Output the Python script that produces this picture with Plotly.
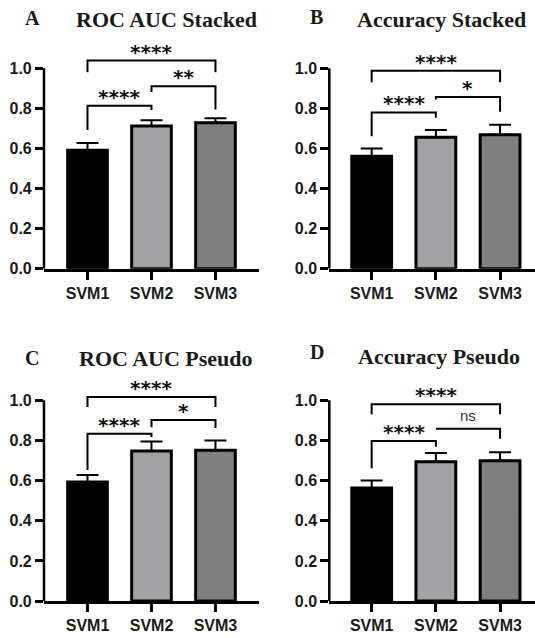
import plotly.graph_objects as go

# ---------------- data ----------------
categories = ["SVM1", "SVM2", "SVM3"]
y_ticks = [0.0, 0.2, 0.4, 0.6, 0.8, 1.0]
y_tick_labels = ["0.0", "0.2", "0.4", "0.6", "0.8", "1.0"]

panel_letters = ["A", "B", "C", "D"]
panel_titles = ["ROC AUC Stacked", "Accuracy Stacked", "ROC AUC Pseudo", "Accuracy Pseudo"]

mean_A = [0.592, 0.713, 0.728]
err_A = [0.036, 0.028, 0.023]
mean_B = [0.562, 0.656, 0.669]
err_B = [0.038, 0.036, 0.049]
mean_C = [0.593, 0.748, 0.751]
err_C = [0.035, 0.047, 0.049]
mean_D = [0.563, 0.694, 0.699]
err_D = [0.038, 0.044, 0.042]

pairs = [(0, 1), (1, 2), (0, 2)]
bracket_h_A = [0.813, 0.911, 1.039]
left_end_A = [0.693, 0.882, 0.980]
right_end_A = [0.792, 0.795, 0.980]
sig_A = ["****", "**", "****"]

bracket_h_B = [0.780, 0.857, 0.988]
left_end_B = [0.661, 0.844, 0.931]
right_end_B = [0.754, 0.784, 0.931]
sig_B = ["****", "*", "****"]

bracket_h_C = [0.833, 0.902, 1.016]
left_end_C = [0.653, 0.866, 0.967]
right_end_C = [0.817, 0.862, 0.967]
sig_C = ["****", "*", "****"]

bracket_h_D = [0.797, 0.858, 0.980]
left_end_D = [0.661, 0.858, 0.931]
right_end_D = [0.768, 0.809, 0.931]
sig_D = ["****", "ns", "****"]

means = [mean_A, mean_B, mean_C, mean_D]
errs = [err_A, err_B, err_C, err_D]
bracket_h = [bracket_h_A, bracket_h_B, bracket_h_C, bracket_h_D]
left_end = [left_end_A, left_end_B, left_end_C, left_end_D]
right_end = [right_end_A, right_end_B, right_end_C, right_end_D]
sigs = [sig_A, sig_B, sig_C, sig_D]

# ---------------- style ----------------
bar_colors = ["#000000", "#a2a1a6", "#7f7f7f"]
x_domains = [[0.0822, 0.4841], [0.6155, 1.0], [0.0822, 0.4841], [0.6155, 1.0]]
x_ranges = [[-0.68, 2.68], [-0.66, 2.544], [-0.68, 2.68], [-0.66, 2.544]]
y_domains = [[0.5726, 0.936], [0.5726, 0.936], [0.0444, 0.4083], [0.0444, 0.4083]]
title_pos = [(0.312, 0.9687), (0.826, 0.9687), (0.310, 0.4295), (0.820, 0.4327)]
letter_pos = [(0.060, 0.9718), (0.5925, 0.9734), (0.060, 0.4310), (0.5925, 0.4404)]

AXW = 2.5
TICKFONT = dict(family="Liberation Sans", size=16, color="#1a1a1a", weight="bold")
fig = go.Figure()
layout = dict(
    width=535, height=638, margin=dict(l=0, r=0, t=0, b=0),
    paper_bgcolor="white", plot_bgcolor="white", showlegend=False,
    shapes=[], annotations=[],
)

for p in range(4):
    xa = "x" if p == 0 else f"x{p+1}"
    ya = "y" if p == 0 else f"y{p+1}"
    fig.add_trace(go.Bar(
        x=categories, y=means[p], width=0.62,
        marker=dict(color=bar_colors, line=dict(color="black", width=3)),
        error_y=dict(type="data", symmetric=False, array=errs[p],
                     arrayminus=[0] * len(errs[p]), color="black",
                     thickness=2, width=11),
        xaxis=xa, yaxis=ya,
    ))
    for k, (i, j) in enumerate(pairs):
        fig.add_trace(go.Scatter(
            x=[categories[i], categories[i], categories[j], categories[j]],
            y=[left_end[p][k], bracket_h[p][k], bracket_h[p][k], right_end[p][k]],
            mode="lines", line=dict(color="black", width=2),
            xaxis=xa, yaxis=ya, hoverinfo="skip",
        ))
        lab = sigs[p][k]
        if lab == "ns":
            font = dict(family="Liberation Sans", size=15, color="#333333")
            ys = 13
        else:
            font = dict(family="DejaVu Sans", size=20, color="#111111", weight="bold")
            ys = 9
        layout["annotations"].append(dict(
            x=(i + j) / 2, y=bracket_h[p][k], xref=xa, yref=ya, text=lab,
            showarrow=False, font=font, yanchor="middle", yshift=ys,
        ))
    # y-axis line only up to 1.0
    layout["shapes"].append(dict(
        type="line", xref=f"{xa} domain", yref=ya, x0=0, x1=0, y0=0, y1=y_ticks[-1],
        line=dict(color="black", width=AXW),
    ))
    key = p + 1 if p else ""
    layout[f"xaxis{key}"] = dict(
        domain=x_domains[p], range=x_ranges[p], anchor=ya,
        type="category", showline=True, linecolor="black", linewidth=AXW,
        ticks="outside", ticklen=8, tickwidth=AXW, tickcolor="black",
        showgrid=False, zeroline=False, tickfont=TICKFONT,
    )
    layout[f"yaxis{key}"] = dict(
        domain=y_domains[p], range=[0, 1.14], anchor=xa,
        showline=False, tickvals=y_ticks, ticktext=y_tick_labels,
        ticks="outside", ticklen=8, tickwidth=AXW, tickcolor="black",
        showgrid=False, zeroline=False, tickfont=TICKFONT,
    )
    layout["annotations"].append(dict(
        x=title_pos[p][0], y=title_pos[p][1], xref="paper", yref="paper",
        text=panel_titles[p], showarrow=False, xanchor="center", yanchor="middle",
        font=dict(family="Liberation Serif", size=22, color="#1a1a1a", weight="bold"),
    ))
    layout["annotations"].append(dict(
        x=letter_pos[p][0], y=letter_pos[p][1], xref="paper", yref="paper",
        text=panel_letters[p], showarrow=False, xanchor="center", yanchor="middle",
        font=dict(family="Liberation Serif", size=20, color="#1a1a1a", weight="bold"),
    ))

fig.update_layout(**layout)
fig.write_html("out.html")
